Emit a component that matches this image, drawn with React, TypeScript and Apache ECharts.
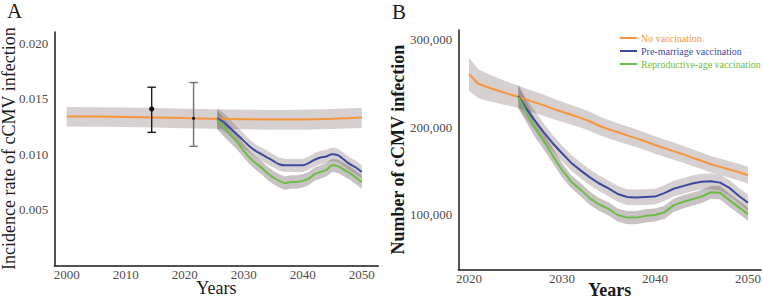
import React, { useEffect, useRef } from "react";
import * as echarts from "echarts";

// ---------- Panel A: incidence rate ----------
const yearsNoVaxA = [2000, 2005, 2010, 2015, 2020, 2025, 2030, 2035, 2040, 2045, 2050];
const rateNoVaxA = [0.0134, 0.01339, 0.01336, 0.01331, 0.01325, 0.0132, 0.01315, 0.01312, 0.01313, 0.01319, 0.01331];
const rateNoVaxLowA = [0.01249, 0.01248, 0.01245, 0.0124, 0.01234, 0.01229, 0.01224, 0.0122, 0.0122, 0.01226, 0.01236];
const rateNoVaxHighA = [0.01424, 0.01423, 0.0142, 0.01415, 0.0141, 0.01405, 0.014, 0.01398, 0.014, 0.01407, 0.01419];

const yearsVaxA = [2025.5, 2026, 2027, 2028, 2029, 2030, 2031, 2032, 2033, 2034, 2035, 2036, 2037, 2038, 2039, 2040, 2041, 2042, 2043, 2044, 2045, 2046, 2047, 2048, 2049, 2050];
const ratePreMarriageA = [0.01322, 0.0131, 0.0127, 0.0122, 0.0117, 0.0112, 0.0107, 0.0103, 0.01, 0.0097, 0.0094, 0.0091, 0.009, 0.009, 0.009, 0.009, 0.0092, 0.0095, 0.0097, 0.0098, 0.01, 0.0099, 0.0095, 0.0091, 0.0088, 0.0084];
const ratePreMarriageHighA = [0.01412, 0.01395, 0.0135, 0.01295, 0.0124, 0.01186, 0.0113, 0.0109, 0.0106, 0.0103, 0.01, 0.0097, 0.0096, 0.0096, 0.0096, 0.0096, 0.0098, 0.0101, 0.0103, 0.0104, 0.0106, 0.0105, 0.0101, 0.0097, 0.0094, 0.009];
const ratePreMarriageLowA = [0.01232, 0.01225, 0.0119, 0.01145, 0.011, 0.01054, 0.0101, 0.0097, 0.0094, 0.0091, 0.0088, 0.0085, 0.0084, 0.0084, 0.0084, 0.0084, 0.0086, 0.0089, 0.0091, 0.0092, 0.0094, 0.0093, 0.0089, 0.0085, 0.0082, 0.0078];
const rateReproA = [0.0131, 0.0128, 0.0122, 0.0116, 0.011, 0.0103, 0.0097, 0.0092, 0.0088, 0.0083, 0.0079, 0.0076, 0.0074, 0.0075, 0.0075, 0.0076, 0.0078, 0.0082, 0.0084, 0.0086, 0.009, 0.0089, 0.0086, 0.0083, 0.0079, 0.0075];
const rateReproHighA = [0.014, 0.01365, 0.013, 0.01232, 0.01166, 0.0109, 0.0103, 0.0098, 0.0094, 0.0089, 0.0085, 0.0082, 0.008, 0.0081, 0.0081, 0.0082, 0.0084, 0.0088, 0.009, 0.0092, 0.0096, 0.0095, 0.0092, 0.0089, 0.0085, 0.0081];
const rateReproLowA = [0.0122, 0.01195, 0.0114, 0.01088, 0.01034, 0.0097, 0.0091, 0.0086, 0.0082, 0.0077, 0.0073, 0.007, 0.0068, 0.0069, 0.0069, 0.007, 0.0072, 0.0076, 0.0078, 0.008, 0.0084, 0.0083, 0.008, 0.0077, 0.0073, 0.0069];

const obsYearsA = [2014.4, 2021.5];
const obsRateA = [0.01406, 0.01323];
const obsLowA = [0.01197, 0.01071];
const obsHighA = [0.01603, 0.01645];

const xTicksA = [2000, 2010, 2020, 2030, 2040, 2050];
const yTicksA = [0.005, 0.01, 0.015, 0.02];

// ---------- Panel B: number of infections (thousands) ----------
const yearsNoVaxB = [2020, 2021, 2022, 2023, 2024, 2025, 2026, 2027, 2028, 2029, 2030, 2031, 2032, 2033, 2034, 2035, 2036, 2037, 2038, 2039, 2040, 2041, 2042, 2043, 2044, 2045, 2046, 2047, 2048, 2049, 2050];
const numNoVaxK = [261, 250, 246, 242.5, 239, 236, 232.5, 229, 225.5, 221.5, 218, 214.5, 211, 207, 202, 198, 194.5, 191, 187.5, 184, 180, 176.5, 173, 169.5, 165.5, 162, 158, 155, 152, 149, 145.5];
const numNoVaxHighK = [280, 266.5, 261.5, 257, 252.5, 249, 245.2, 241.4, 237.6, 233.3, 229.5, 225.8, 222.1, 217.9, 212.7, 208.5, 204.9, 201.3, 197.7, 194.1, 190, 186.4, 182.8, 179.2, 175.1, 171.5, 167.5, 164.5, 161.5, 158.5, 155];
const numNoVaxLowK = [242, 233.5, 230.5, 228, 225.5, 223, 219.8, 216.6, 213.4, 209.7, 206.5, 203.2, 199.9, 196.1, 191.3, 187.5, 184.1, 180.7, 177.3, 173.9, 170, 166.6, 163.2, 159.8, 155.9, 152.5, 148.5, 145.5, 142.5, 139.5, 136];

const yearsVaxB = [2025.3, 2026, 2027, 2028, 2029, 2030, 2031, 2032, 2033, 2034, 2035, 2036, 2037, 2038, 2039, 2040, 2041, 2042, 2043, 2044, 2045, 2046, 2047, 2048, 2049, 2050];
const numPreMarriageK = [236, 224, 209, 195, 182, 170.5, 159.5, 151, 143, 136, 130.5, 124, 120.5, 120, 120.5, 121, 125, 130, 133, 136, 138, 138.5, 137, 131, 122, 114];
const numPreMarriageHighK = [249, 236, 220, 205, 191.5, 179.5, 168.5, 160, 152, 145, 139.5, 133, 129.5, 129, 129.5, 130, 134, 139, 142, 145, 147, 147.5, 146, 140, 131, 123];
const numPreMarriageLowK = [223, 212, 198, 185, 172.5, 161.5, 150.5, 142, 134, 127, 121.5, 115, 111.5, 111, 111.5, 112, 116, 121, 124, 127, 129, 129.5, 128, 122, 113, 105];
const numReproK = [235, 221, 201, 185, 168, 151.5, 138, 129, 119, 112, 107, 100, 97, 97, 99, 100, 103, 111, 115, 118, 121, 126, 125.5, 117, 109, 101];
const numReproHighK = [248, 233, 211.5, 194.5, 176.5, 159.5, 145.5, 136.5, 126.5, 119.5, 114.5, 107.5, 104.5, 104.5, 106.5, 107.5, 110.5, 118.5, 122.5, 125.5, 128.5, 133.5, 133, 124.5, 116.5, 108.5];
const numReproLowK = [222, 209, 190.5, 175.5, 159.5, 143.5, 130.5, 121.5, 111.5, 104.5, 99.5, 92.5, 89.5, 89.5, 91.5, 92.5, 95.5, 103.5, 107.5, 110.5, 113.5, 118.5, 118, 109.5, 101.5, 93.5];

const xTicksB = [2020, 2030, 2040, 2050];
const yTicksB = [100000, 200000, 300000];

const seriesNames = ["No vaccination", "Pre-marriage vaccination", "Reproductive-age vaccination"];

// ---------- styles ----------
const FONT = "Liberation Serif";
const ORANGE = "#f7953a";
const BLUE = "#3d4a9e";
const GREEN = "#6cbd45";
const BAND = "rgba(120,100,100,0.3)";
const BAND_DARK = "rgba(110,95,95,0.38)";
const LABEL = "#4f4a4a";
const AXIS = "#1a1a1a";

const k = (arr: number[]) => arr.map((v) => v * 1000);

function band(xs: number[], lo: number[], hi: number[], fill: string, idx: number) {
  return {
    type: "custom",
    xAxisIndex: idx,
    yAxisIndex: idx,
    silent: true,
    z: 1,
    data: xs.map((x, i) => [x, lo[i], hi[i]]),
    encode: { x: 0, y: [1, 2] },
    renderItem: (params: any, api: any) => {
      if (params.dataIndex !== 0) return null;
      const pts: number[][] = [];
      for (let i = 0; i < xs.length; i++) pts.push(api.coord([xs[i], hi[i]]));
      for (let i = xs.length - 1; i >= 0; i--) pts.push(api.coord([xs[i], lo[i]]));
      return { type: "polygon", shape: { points: pts }, style: { fill } };
    },
  };
}

function line(name: string, xs: number[], ys: number[], color: string, idx: number, smooth: number | boolean) {
  return {
    type: "line",
    name,
    xAxisIndex: idx,
    yAxisIndex: idx,
    data: xs.map((x, i) => [x, ys[i]]),
    showSymbol: false,
    symbol: "none",
    smooth,
    z: 3,
    lineStyle: { color, width: 2 },
    itemStyle: { color },
  };
}

const errorColors = ["#1a1a1a", "#707070"];
const dotRadius = [2.6, 1.6];

const errorBars = {
  type: "custom",
  xAxisIndex: 0,
  yAxisIndex: 0,
  z: 4,
  silent: true,
  data: obsYearsA.map((x, i) => [x, obsRateA[i], obsLowA[i], obsHighA[i]]),
  encode: { x: 0, y: [1, 2, 3] },
  renderItem: (params: any, api: any) => {
    const x = api.value(0);
    const pm = api.coord([x, api.value(1)]);
    const pl = api.coord([x, api.value(2)]);
    const ph = api.coord([x, api.value(3)]);
    const c = errorColors[params.dataIndex];
    const cw = 4.2;
    return {
      type: "group",
      children: [
        { type: "line", shape: { x1: pl[0], y1: pl[1], x2: ph[0], y2: ph[1] }, style: { stroke: c, lineWidth: 1.4 } },
        { type: "line", shape: { x1: ph[0] - cw, y1: ph[1], x2: ph[0] + cw, y2: ph[1] }, style: { stroke: c, lineWidth: 1.4 } },
        { type: "line", shape: { x1: pl[0] - cw, y1: pl[1], x2: pl[0] + cw, y2: pl[1] }, style: { stroke: c, lineWidth: 1.4 } },
        { type: "circle", shape: { cx: pm[0], cy: pm[1], r: dotRadius[params.dataIndex] }, style: { fill: "#111" } },
      ],
    };
  },
};

const labelStyle = { color: LABEL, fontFamily: FONT, fontSize: 13 };

const option: any = {
  animation: false,
  backgroundColor: "#fff",
  textStyle: { fontFamily: FONT },
  grid: [
    { left: 54.3, top: 32, width: 324, height: 233.3, outerBoundsMode: "none", containLabel: false },
    { left: 458.3, top: 30, width: 302.7, height: 239.3, outerBoundsMode: "none", containLabel: false },
  ],
  legend: {
    left: 620,
    top: 33,
    orient: "vertical",
    icon: "rect",
    itemWidth: 17,
    itemHeight: 2,
    itemGap: 3,
    padding: 0,
    textStyle: { fontFamily: FONT, fontSize: 10, padding: [0, 0, 0, -1] },
    data: [
      { name: seriesNames[0], textStyle: { color: ORANGE } },
      { name: seriesNames[1], textStyle: { color: BLUE } },
      { name: seriesNames[2], textStyle: { color: GREEN } },
    ],
  },
  xAxis: [
    {
      type: "value",
      gridIndex: 0,
      min: 1997.9,
      max: 2052.8,
      axisLine: { show: true, lineStyle: { color: AXIS, width: 1.5 } },
      axisTick: { show: false },
      splitLine: { show: false },
      axisLabel: { ...labelStyle, margin: 3, customValues: xTicksA, formatter: (v: number) => String(v) },
      name: "Years",
      nameLocation: "middle",
      nameGap: 14,
      nameMoveOverlap: false,
      nameTextStyle: { fontFamily: FONT, fontSize: 18, color: AXIS },
    },
    {
      type: "value",
      gridIndex: 1,
      min: 2018.85,
      max: 2051.4,
      axisLine: { show: true, lineStyle: { color: AXIS, width: 1.5 } },
      axisTick: { show: false },
      splitLine: { show: false },
      axisLabel: { ...labelStyle, margin: 2.5, customValues: xTicksB, formatter: (v: number) => String(v) },
      name: "Years",
      nameLocation: "middle",
      nameGap: 12,
      nameMoveOverlap: false,
      nameTextStyle: { fontFamily: FONT, fontSize: 18, fontWeight: "bold", color: AXIS },
    },
  ],
  yAxis: [
    {
      type: "value",
      gridIndex: 0,
      min: 0,
      max: 0.021,
      axisLine: { show: true, lineStyle: { color: AXIS, width: 1.5 } },
      axisTick: { show: false },
      splitLine: { show: false },
      axisLabel: { ...labelStyle, margin: 6, customValues: yTicksA, formatter: (v: number) => v.toFixed(3) },
      name: "Incidence rate of cCMV infection",
      nameLocation: "middle",
      nameGap: 36,
      nameMoveOverlap: false,
      nameTextStyle: { fontFamily: FONT, fontSize: 18, color: AXIS },
    },
    {
      type: "value",
      gridIndex: 1,
      min: 37943,
      max: 311400,
      axisLine: { show: true, lineStyle: { color: AXIS, width: 1.5 } },
      axisTick: { show: false },
      splitLine: { show: false },
      axisLabel: {
        ...labelStyle,
        margin: 6,
        customValues: yTicksB,
        formatter: (v: number) => v.toLocaleString("en-US"),
      },
      name: "Number of cCMV infection",
      nameLocation: "middle",
      nameGap: 51,
      nameMoveOverlap: false,
      nameTextStyle: { fontFamily: FONT, fontSize: 18, fontWeight: "bold", color: AXIS },
    },
  ],
  graphic: [
    { type: "text", left: 7, top: 0, style: { text: "A", font: `21px ${FONT}`, fill: AXIS } },
    { type: "text", left: 392, top: 1, style: { text: "B", font: `21px ${FONT}`, fill: AXIS } },
  ],
  series: [
    band(yearsNoVaxA, rateNoVaxLowA, rateNoVaxHighA, BAND, 0),
    band(yearsVaxA, ratePreMarriageLowA, ratePreMarriageHighA, BAND, 0),
    band(yearsVaxA, rateReproLowA, rateReproHighA, BAND_DARK, 0),
    line(seriesNames[0], yearsNoVaxA, rateNoVaxA, ORANGE, 0, 0.4),
    line(seriesNames[1], yearsVaxA, ratePreMarriageA, BLUE, 0, 0.3),
    line(seriesNames[2], yearsVaxA, rateReproA, GREEN, 0, 0.3),
    errorBars,
    band(yearsNoVaxB, k(numNoVaxLowK), k(numNoVaxHighK), BAND, 1),
    band(yearsVaxB, k(numPreMarriageLowK), k(numPreMarriageHighK), BAND, 1),
    band(yearsVaxB, k(numReproLowK), k(numReproHighK), BAND_DARK, 1),
    line(seriesNames[0], yearsNoVaxB, k(numNoVaxK), ORANGE, 1, false),
    line(seriesNames[1], yearsVaxB, k(numPreMarriageK), BLUE, 1, false),
    line(seriesNames[2], yearsVaxB, k(numReproK), GREEN, 1, false),
  ],
};

export default function App() {
  const ref = useRef<HTMLDivElement>(null);
  useEffect(() => {
    document.body.style.margin = "0";
    const chart = echarts.init(ref.current as HTMLDivElement, null, { renderer: "svg" });
    chart.setOption(option);
    return () => chart.dispose();
  }, []);
  return <div ref={ref} style={{ width: 763, height: 300 }} />;
}
